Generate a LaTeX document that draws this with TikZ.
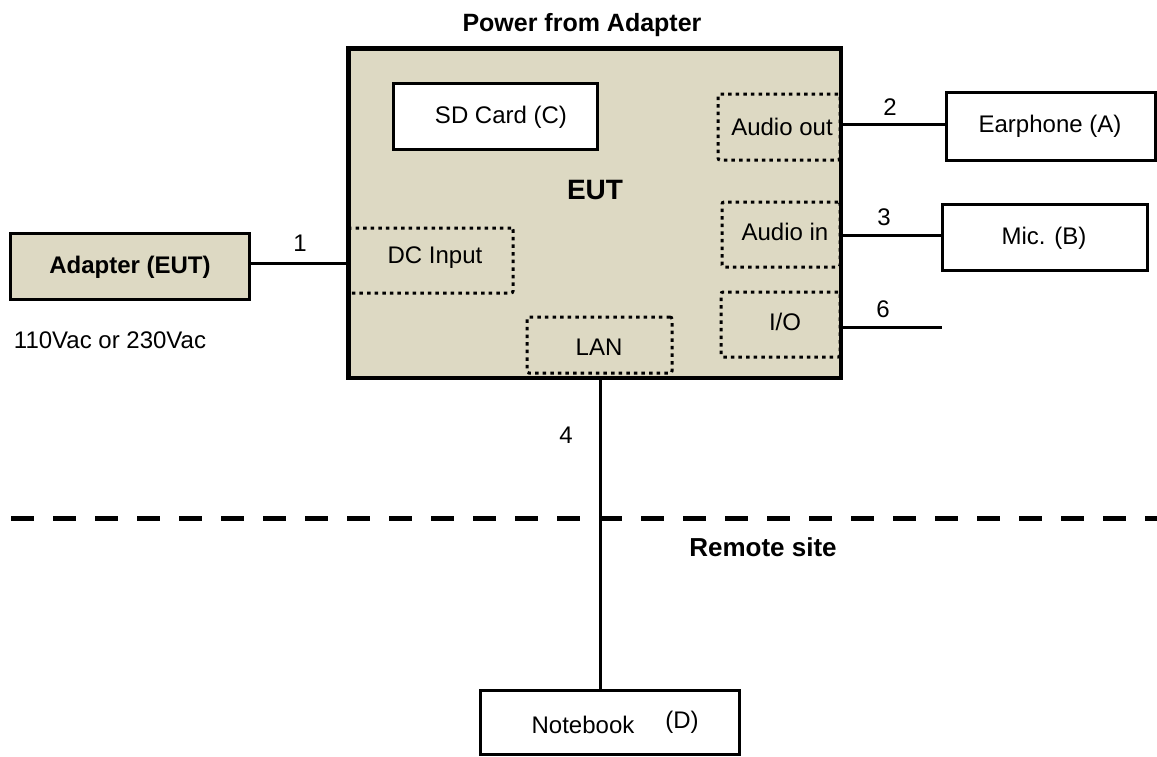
\documentclass[tikz,border=0pt]{standalone}
\usepackage{fontspec}
\setmainfont{Liberation Sans}
\definecolor{eutfill}{HTML}{DDD9C3}
\begin{document}
\begin{tikzpicture}[x=1pt,y=-1pt,
  every node/.style={font=\fontsize{24}{28}\selectfont, inner sep=0pt},
  solidbox/.style={draw=black, line width=3pt, fill=white},
  tanbox/.style={draw=black, line width=3pt, fill=eutfill},
  dotbox/.style={draw=black, line width=3pt, dash pattern=on 3.5pt off 4.1pt, rounded corners=2pt},
  wire/.style={draw=black, line width=3pt},
  lbl/.style={font=\fontsize{24}{28}\selectfont}
]
\useasboundingbox (0,0) rectangle (1157,756);
% EUT main box
\node[tanbox, minimum width=491pt, minimum height=328pt] (eut) at (594.5,213) {};
\node[font=\bfseries\fontsize{28}{32}\selectfont] (euttxt) at (595,190) {EUT};
\node[font=\bfseries\fontsize{25}{30}\selectfont, anchor=base] (title) at (582,31) {Power from Adapter};
% inner boxes
\node[solidbox, minimum width=204pt, minimum height=66pt] (sd) at (495,116) {};
\node (sdtxt) at (501,117) {SD Card (C)};
\node[dotbox, minimum width=122pt, minimum height=66pt] (aout) at (779,127) {};
\node (aouttxt) at (782,127) {Audio out};
\node[dotbox, minimum width=118pt, minimum height=65pt] (ain) at (781,234.5) {};
\node (aintxt) at (785,232) {Audio in};
\node[dotbox, minimum width=119pt, minimum height=65pt] (io) at (780.5,324.5) {};
\node (iotxt) at (785,322) {I/O};
\node[dotbox, minimum width=164pt, minimum height=65pt] (dc) at (431,260.5) {};
\node (dctxt) at (435,258) {DC Input};
\node[dotbox, minimum width=145pt, minimum height=56pt] (lan) at (599.5,345) {};
\node (lantxt) at (599,347) {LAN};
% redraw EUT border on top
\draw[line width=3pt] (eut.north west) rectangle (eut.south east);
% adapter
\node[tanbox, minimum width=239pt, minimum height=66pt] (adapter) at (129.5,266) {};
\node[font=\bfseries\fontsize{24}{28}\selectfont] (adtxt) at (130,267) {Adapter (EUT)};
\node (vac) at (110,340) {110Vac or 230Vac};
% right devices
\node[solidbox, minimum width=209pt, minimum height=68pt] (ear) at (1050.5,126) {};
\node (eartxt) at (1050,126) {Earphone (A)};
\node[solidbox, minimum width=205pt, minimum height=66pt] (mic) at (1044.5,237) {};
\node (mictxt) at (1044,238) {Mic. (B)};
\coordinate (ioend) at (942,327);
% notebook
\node[solidbox, minimum width=259pt, minimum height=64pt] (nb) at (609.5,722) {};
\node (nbtxt) at (583,725) {Notebook};
\node (nbd) at (682,722) {(D)};
% connectors
\draw[wire] (adapter.east |- 0,263) -- (eut.west |- 0,263);
\node (l1) at (300,243) {1};
\draw[wire] (eut.east |- 0,124) -- (ear.west |- 0,124);
\node (l2) at (890,107) {2};
\draw[wire] (eut.east |- 0,235) -- (mic.west |- 0,235);
\node (l3) at (884,217) {3};
\draw[wire] (eut.east |- 0,327) -- (ioend);
\node (l6) at (883,309) {6};
\draw[wire] (eut.south -| 600,0) -- (nb.north -| 600,0);
\node (l4) at (566,435) {4};
% remote site boundary
\coordinate (dashL) at (11,518);
\coordinate (dashR) at (1170,518);
\draw[line width=5pt, dash pattern=on 23pt off 19pt] (dashL) -- (dashR);
\node[font=\bfseries\fontsize{26}{30}\selectfont] (remote) at (763,547) {Remote site};
\end{tikzpicture}
\end{document}
